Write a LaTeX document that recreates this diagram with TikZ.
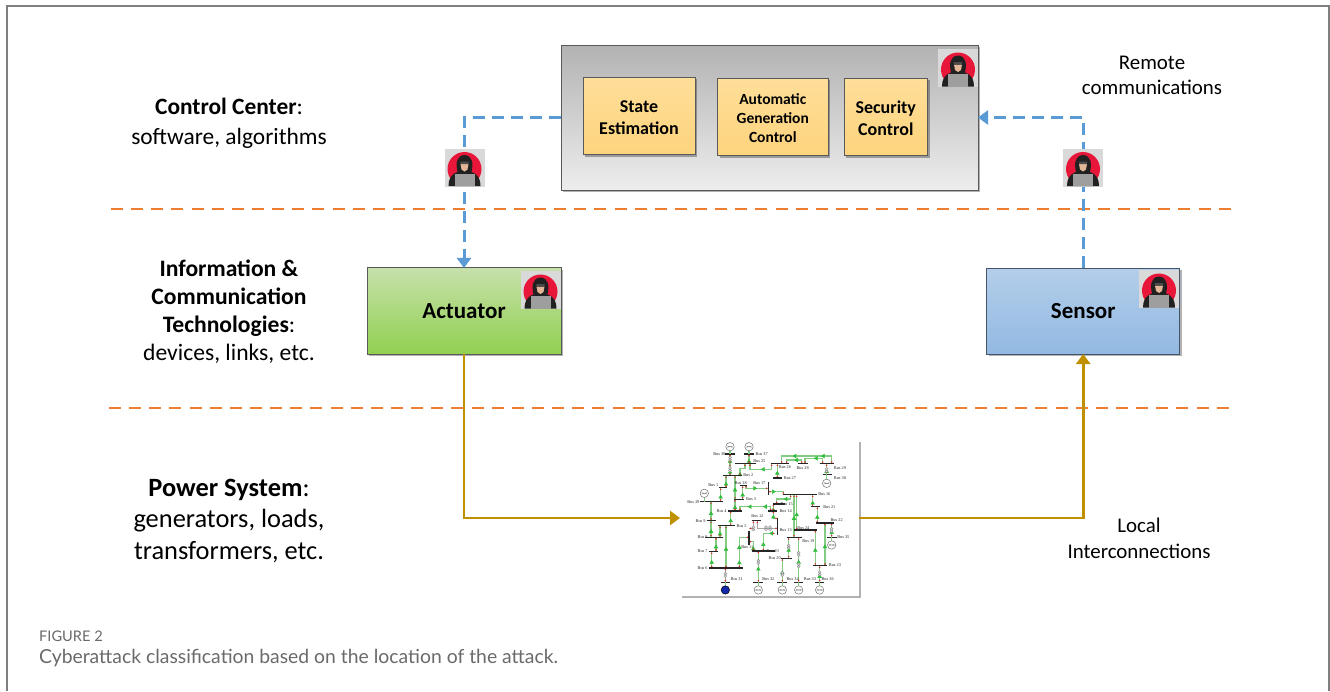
\documentclass[tikz,border=0pt]{standalone}
\usepackage{fontspec}
\setmainfont{Carlito}
\newfontfamily\capfont{Lato}
\newfontfamily\gridfont{Liberation Serif}
\usetikzlibrary{arrows.meta,shadows,calc}
\definecolor{framegray}{HTML}{7F7F7F}
\definecolor{capgray}{HTML}{6A6A6A}
\definecolor{bluedash}{HTML}{5B9BD5}
\definecolor{orangedash}{HTML}{ED7D31}
\definecolor{goldline}{HTML}{BF9000}
\definecolor{boxedge}{HTML}{44546A}
\definecolor{yeltop}{RGB}{254,222,153}
\definecolor{yelbot}{RGB}{254,212,125}
\definecolor{grntop}{RGB}{198,224,170}
\definecolor{grnbot}{RGB}{146,208,80}
\definecolor{blutop}{RGB}{180,206,234}
\definecolor{blubot}{RGB}{146,185,226}
\definecolor{hackred}{RGB}{232,23,58}
\definecolor{hackskin}{RGB}{226,182,150}
\definecolor{genblue}{RGB}{20,40,170}
\definecolor{gridgreen}{RGB}{132,204,132}
\definecolor{tribgreen}{RGB}{50,190,60}
\definecolor{griddot}{RGB}{225,40,40}
\tikzset{
  softshadow/.style={drop shadow={shadow xshift=2pt,shadow yshift=-2pt,fill=black,opacity=.3}},
  basebox/.style={rectangle,draw=#1,line width=1pt,inner sep=0pt,outer sep=0pt,softshadow,align=center,text=black},
  ctrlbox/.style={basebox=black!65,top color=black!30,bottom color=black!7},
  yellowbox/.style={basebox=black!65,top color=yeltop,bottom color=yelbot},
  greenbox/.style={basebox=black!65,top color=grntop,bottom color=grnbot},
  bluebox/.style={basebox=boxedge,top color=blutop,bottom color=blubot},
  boxlabel/.style={align=center,inner sep=0pt,text=black,yshift=-1pt},
  biglabel/.style={align=center,inner sep=0pt,text=black,font=\bfseries\fontsize{23}{26}\selectfont},
  bluelink/.style={draw=bluedash,line width=3pt,dash pattern=on 12pt off 7pt,-{Triangle[length=10pt,width=14pt]}},
  goldlink/.style={draw=goldline,line width=2.8pt,-{Triangle[length=10pt,width=14pt]}},
  layerline/.style={draw=orangedash,line width=2.9pt,dash pattern=on 12pt off 8.14pt},
  sidelabel/.style={align=center,text=black,inner sep=0pt},
  hbar/.style={line width=1.1pt,draw=black!85},
  gridlbl/.style={font=\gridfont\fontsize{4.3}{5}\selectfont,inner sep=0pt,text=black!85},
  gln/.style={draw=gridgreen,line width=1.25pt},
  gtri/.style={draw=gridgreen,line width=.6pt,-{Triangle[length=3.8pt,width=4.4pt,color=tribgreen]}},
  ggray/.style={draw=black!35,line width=1pt},
}
\newcommand{\hackericon}[3]{%
  \begin{scope}[shift={(#2,#3)}]
    \node[rectangle,fill=black!15,minimum width=40pt,minimum height=38pt,inner sep=0pt,outer sep=0pt] (#1) at (0,0) {};
    \fill[hackred] (0,1.5) circle (17pt);
    \fill[black!87] (-16,18.5) .. controls (-16,12) and (-14,7) .. (-7,4.5) .. controls (-9,-4) and (-8,-12) .. (0,-12.5) .. controls (8,-12) and (9,-4) .. (7,4.5) .. controls (14,7) and (16,12) .. (16,18.5) -- cycle;
    \fill[hackskin] (-4,-3.5) -- (4,-3.5) -- (3,2) -- (0,4) -- (-3,2) -- cycle;
    \fill[black!70] (-4.2,-6) -- (4.2,-6) -- (4,-3.5) -- (-4,-3.5) -- cycle;
    \fill[black!38] (-10,6) rectangle (10,18.5);
  \end{scope}%
}
% straight line: green, arrow in the middle from end 2 towards end 1, red dots at both ends
\newcommand{\gl}[4]{%
  \draw[gln] (#1,#2) -- (#3,#4);
  \draw[gtri] (#3,#4) -- ($(#1,#2)!.5!(#3,#4)$);
  \fill[griddot] ($(#1,#2)!1.7pt!(#3,#4)$) circle (.85pt);
  \fill[griddot] ($(#3,#4)!1.7pt!(#1,#2)$) circle (.85pt);
}
% polyline: three points and more
\newcommand{\gp}[1]{\draw[gln] #1;}
\newcommand{\ga}[4]{\draw[gtri] (#3,#4) -- ($(#1,#2)!.5!(#3,#4)$);}
\newcommand{\rd}[2]{\fill[griddot] (#1,#2) circle (.85pt);}
\newcommand{\gk}[1]{\draw[ggray] #1;}
\newcommand{\tf}[2]{\draw[black!50,line width=.35pt,fill=black!12] (#1,#2-3.5) circle (1.5pt) (#1,#2+3.5) circle (1.5pt);}
\newcommand{\bb}[3]{\draw[hbar] (#1,#3) -- (#2,#3);}
\newcommand{\bv}[3]{\draw[hbar] (#1,#2) -- (#1,#3);}
\newcommand{\bl}[3]{\node[gridlbl] at (#1,#2) {Bus #3};}
\newcommand{\gn}[2]{\draw[black!55,fill=white,line width=.5pt] (#1,#2) circle (4.2pt); \draw[black!55,line width=.35pt] (#1-8,#2-2) -- (#1+8,#2+2) (#1-8,#2+2) -- (#1+8,#2-2);}
\begin{document}
\begin{tikzpicture}[x=1pt,y=-1pt]
\useasboundingbox (0,0) rectangle (1330,691);
\fill[white] (0,0) rectangle (1330,691);
\coordinate (fa) at (6.5,691);
\coordinate (fb) at (6.5,6);
\coordinate (fc) at (1329,6);
\coordinate (fd) at (1329,691);
\draw[framegray,line width=2pt] (fa) -- (fb) -- (fc) -- (fd);

% layer separators
\coordinate (la) at (111,209); \coordinate (lb) at (1231,209);
\coordinate (lc) at (109,408); \coordinate (ld) at (1229,408);
\draw[layerline] (la) -- (lb);
\draw[layerline] (lc) -- (ld);

% boxes
\node[ctrlbox,minimum width=417pt,minimum height=145pt] (ctrl) at (769.5,117.5) {};
\node[yellowbox,minimum width=112pt,minimum height=77.5pt] (state) at (639,116.2) {};
\node[boxlabel,font=\bfseries\fontsize{18}{22}\selectfont] (statet) at (state.center) {State\\Estimation};
\node[yellowbox,minimum width=110.5pt,minimum height=77.5pt] (agc) at (772.8,117.2) {};
\node[boxlabel,font=\bfseries\fontsize{15.5}{18.9}\selectfont] (agct) at (agc.center) {Automatic\\Generation\\Control};
\node[yellowbox,minimum width=83.5pt,minimum height=77.5pt] (sec) at (885.8,117.2) {};
\node[boxlabel,font=\bfseries\fontsize{18}{22}\selectfont] (sect) at (sec.center) {Security\\Control};
\node[greenbox,biglabel,minimum width=194pt,minimum height=86.5pt] (act) at (464,311.2) {\raisebox{-1pt}{Actuator}};
\node[bluebox,biglabel,minimum width=193pt,minimum height=86pt] (sens) at (1083.2,311) {\raisebox{-1pt}{Sensor}};

% power grid picture
\node[rectangle,fill=white,minimum width=179pt,minimum height=156pt,inner sep=0pt,outer sep=0pt,softshadow] (grid) at (769.5,518) {};

% connectors
\draw[bluelink] (ctrl.west) -| (act.north);
\draw[bluelink] (sens.north) |- (ctrl.east);
\draw[goldlink] (act.south) |- (grid.west);
\draw[goldlink] (grid.east) -| (sens.south);

% grid contents
\begin{scope}[shift={(670,430)},x=.3333pt,y=-.3333pt]
\gl{180}{72}{180}{101}
\gl{237}{72}{237}{101}
\gl{180}{101}{180}{137}
\gp{(240,101)--(240,118)--(305,118)--(305,101)} \ga{240}{118}{305}{118} \rd{240}{106}\rd{305}{106}
\gp{(210,137)--(210,115)--(225,115)--(225,101)} \ga{210}{115}{210}{137} \rd{210}{132}\rd{225}{106}
\gp{(335,101)--(335,78)--(485,78)--(485,101)} \ga{335}{78}{400}{78} \ga{420}{78}{485}{78} \rd{335}{96}\rd{485}{96}
\gp{(350,101)--(350,90)--(395,90)--(395,101)} \ga{350}{90}{395}{90} \rd{350}{96}\rd{395}{96}
\gp{(405,101)--(405,85)--(458,85)--(458,101)} \ga{405}{85}{458}{85} \rd{405}{96}\rd{458}{96}
\gl{470}{101}{470}{133}
\gl{322}{101}{322}{144}
\gl{168}{137}{168}{173}
\gl{152}{173}{152}{215}
\gl{195}{137}{195}{208}
\gl{195}{208}{195}{243}
\gl{218}{167}{218}{208}
\gp{(228,167)--(228,175)--(295,175)} \ga{295}{175}{228}{175} \rd{228}{170}\rd{290}{175}
\gp{(295,185)--(340,185)--(340,194)} \ga{340}{185}{295}{185} \rd{300}{185}\rd{340}{189}
\gl{372}{194}{372}{322}
\gl{380}{194}{380}{300}
\gl{428}{194}{428}{230}
\gl{442}{230}{442}{279}
\gl{465}{279}{465}{407}
\gl{485}{279}{485}{322}
\gl{436}{300}{436}{407}
\gp{(362,194)--(362,207)--(320,207)--(320,222)} \ga{320}{207}{362}{207} \rd{362}{199}\rd{320}{217}
\gl{310}{222}{310}{243}
\gp{(302,243)--(302,230)--(210,230)--(210,243)} \ga{210}{230}{256}{230} \ga{256}{230}{302}{230} \rd{302}{238}\rd{210}{238}
\gp{(310,243)--(310,265)--(323,265)} \ga{310}{243}{310}{265} \rd{310}{248}\rd{318}{265}
\gp{(315,310)--(280,310)--(280,363)} \ga{280}{310}{315}{310} \ga{280}{310}{280}{363} \rd{310}{310}\rd{280}{358}
\gk{(323,295)--(262,295)--(262,272)} \rd{318}{295}\rd{262}{277}
\gk{(237,295)--(250,295)--(250,272)} \rd{242}{295}\rd{250}{277}
\gp{(237,335)--(250,335)--(250,363)} \ga{250}{335}{250}{363} \rd{242}{335}\rd{250}{358}
\gp{(237,322)--(208,322)--(208,414)} \ga{208}{322}{208}{368} \ga{208}{368}{208}{414} \rd{232}{322}\rd{208}{409}
\gl{182}{243}{182}{287}
\gl{168}{287}{168}{414}
\gl{150}{287}{150}{322}
\gl{123}{272}{123}{322}
\gl{123}{215}{123}{272}
\gl{138}{322}{138}{365}
\gl{125}{365}{125}{414}
\gk{(166,414)--(166,457)} \rd{166}{419}\rd{166}{452}
\gl{265}{363}{265}{457}
\gl{356}{322}{356}{385}
\gl{337}{385}{337}{457}
\gl{386}{322}{386}{457}
\gl{449}{407}{449}{457}
\tf{180}{86}\tf{180}{118}\tf{166}{435}\tf{265}{396}\tf{337}{432}\tf{386}{372}\tf{386}{406}\tf{356}{350}\tf{470}{120}\tf{250}{295}\tf{288}{295}\tf{300}{295}\tf{485}{300}\tf{449}{430}
\bb{165}{195}{72}\bb{222}{252}{72}\bb{195}{258}{101}\bb{302}{358}{101}\bb{385}{415}{101}\bb{450}{492}{101}
\bb{458}{485}{133}\bb{160}{215}{137}\bb{310}{335}{144}\bb{148}{172}{173}\bb{210}{232}{167}\bb{340}{442}{194}
\bb{192}{222}{208}\bb{90}{158}{215}\bb{422}{450}{230}\bb{310}{345}{222}\bb{295}{320}{243}\bb{175}{215}{243}
\bb{245}{272}{272}\bb{110}{138}{272}\bb{437}{492}{279}\bb{145}{195}{287}\bb{372}{442}{300}\bb{105}{160}{322}
\bb{470}{500}{322}\bb{350}{395}{322}\bb{118}{143}{365}\bb{245}{315}{363}\bb{332}{365}{385}\bb{430}{470}{407}
\bb{118}{220}{414}\bb{152}{180}{457}\bb{250}{280}{457}\bb{322}{350}{457}\bb{373}{400}{457}\bb{435}{462}{457}
\bv{295}{155}{195}\bv{323}{265}{315}\bv{237}{302}{345}
\draw[gln] (180,58)--(180,72) (237,58)--(237,72) (470,133)--(470,150) (103,198)--(103,215) (485,322)--(485,335) (265,457)--(265,470) (337,457)--(337,470) (386,457)--(386,470) (449,457)--(449,470) (166,457)--(166,470);
\gn{180}{50}\gn{237}{50}\gn{470}{160}\gn{103}{190}\gn{485}{345}\gn{265}{480}\gn{337}{480}\gn{386}{480}\gn{449}{480}
\draw[black,fill=genblue,line width=.5pt] (166,480) circle (4.2pt);
\bl{148}{73}{30}\bl{275}{73}{37}\bl{268}{92}{25}\bl{345}{112}{26}\bl{398}{113}{28}\bl{510}{113}{29}\bl{510}{143}{38}
\bl{235}{134}{2}\bl{360}{144}{27}\bl{130}{164}{1}\bl{212}{160}{18}\bl{268}{158}{17}\bl{463}{192}{16}\bl{243}{207}{3}
\bl{70}{215}{39}\bl{478}{230}{21}\bl{350}{222}{15}\bl{347}{243}{14}\bl{155}{243}{4}\bl{262}{258}{12}\bl{92}{272}{9}
\bl{500}{269}{22}\bl{215}{287}{5}\bl{400}{293}{24}\bl{347}{300}{13}\bl{232}{350}{11}\bl{98}{322}{8}\bl{520}{322}{35}
\bl{415}{333}{19}\bl{98}{363}{7}\bl{308}{363}{10}\bl{314}{385}{20}\bl{495}{405}{23}\bl{98}{414}{6}\bl{200}{446}{31}
\bl{295}{446}{32}\bl{368}{446}{34}\bl{420}{446}{33}\bl{473}{446}{36}
\end{scope}

% attacker icons
\hackericon{hctrl}{958}{68}
\hackericon{hleft}{464.5}{167.5}
\hackericon{hact}{540.5}{290}
\hackericon{hright}{1083}{167.5}
\hackericon{hsens}{1159}{289}

% side labels
\node[sidelabel,font=\fontsize{23.4}{30}\selectfont] (lcc) at (229,123.5) {\textbf{Control Center}:\\software, algorithms};
\node[sidelabel,font=\fontsize{23.6}{28}\selectfont] (lict) at (229,312) {\textbf{Information \&}\\\textbf{Communication}\\\textbf{Technologies}:\\devices, links, etc.};
\node[sidelabel,font=\fontsize{26.4}{31.5}\selectfont] (lps) at (229,521) {\textbf{Power System}:\\generators, loads,\\transformers, etc.};
\node[sidelabel,font=\fontsize{20.9}{25}\selectfont] (lrem) at (1152,75) {Remote\\communications};
\node[sidelabel,font=\fontsize{20.9}{26}\selectfont] (lloc) at (1139,538) {Local\\Interconnections};

% caption
\node[anchor=west,inner sep=0pt,text=capgray,font=\capfont\fontsize{14.6}{17}\selectfont] (figlbl) at (39,636) {FIGURE 2};
\node[anchor=west,inner sep=0pt,text=capgray,font=\capfont\fontsize{19.35}{23}\selectfont] (figcap) at (39,658) {Cyberattack classification based on the location of the attack.};
\end{tikzpicture}
\end{document}
